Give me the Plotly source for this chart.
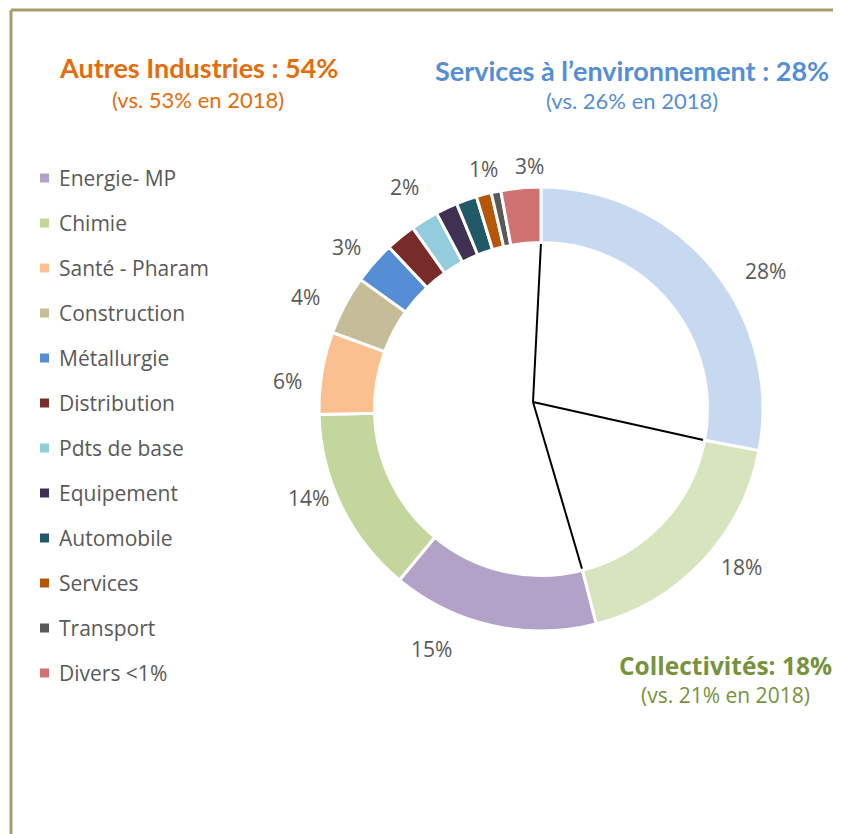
import math
import plotly.graph_objects as go

# --- data -------------------------------------------------------------
sectors = [
    "Services à l’environnement", "Collectivités", "Energie- MP", "Chimie",
    "Santé - Pharam", "Construction", "Métallurgie", "Distribution",
    "Pdts de base", "Equipement", "Automobile", "Services", "Transport",
    "Divers <1%",
]
shares = [28, 18, 15, 13.6, 6, 4.3, 3.1, 2.2, 2.0, 1.6, 1.5, 1.1, 0.7, 2.9]
shown_labels = ["28%", "18%", "15%", "14%", "6%", "4%", "3%", "", "2%", "", "", "1%", "", "3%"]
colors = [
    "#C6D9F1", "#D7E4BD", "#B2A2C7", "#C3D69B", "#FAC090", "#C4BD97", "#558ED5",
    "#772C2A", "#93CDDD", "#403152", "#215968", "#B65708", "#595959", "#D07272",
]
# groups drawn by the black radial lines: env. services | collectivités | other industries
group_sizes = [1, 1, 12]

headers = [
    ("Autres Industries : 54%", "(vs. 53% en 2018)", "#E46C0A"),
    ("Services à l’environnement : 28%", "(vs. 26% en 2018)", "#558ED5"),
    ("Collectivités: 18%", "(vs. 21% en 2018)", "#77933C"),
]

# --- geometry ---------------------------------------------------------
# the page body has an 8px margin, so the figure starts at (8, 8) of the window
OFF = 8
W, H = 841 - OFF, 834 - OFF


def px(x):
    return (x - OFF) / W


def py(y):
    return 1 - (y - OFF) / H


CX, CY, R = 541, 409, 222   # ring centre / outer radius in window pixels
HOLE = 0.75
LABEL_R = 1.15
# label placement tweaks: (angle nudge in degrees, radius factor)
label_place = {
    0: (8, 1.185), 1: (-5, 1.15), 2: (12, 1.19), 3: (5, 1.12), 4: (-3, 1.15),
    5: (-2.5, 1.175), 6: (-1.5, 1.14), 8: (0, 1.175), 11: (1.5, 1.11), 13: (2.5, 1.095),
}

total = sum(shares)
fig = go.Figure()

fig.add_trace(go.Pie(
    labels=sectors, values=shares, sort=False, direction="clockwise", rotation=0,
    hole=HOLE, textinfo="none", hoverinfo="label+percent", showlegend=False,
    marker=dict(colors=colors, line=dict(color="white", width=3)),
    domain=dict(x=[px(CX - R), px(CX + R)], y=[py(CY + R), py(CY - R)]),
))


def ang(frac):
    return 2 * math.pi * frac


# radial lines of the inner "group" pie, slightly off-centre like the original
ox, oy = -8 / R, 7 / R
lx, ly = [], []
bounds = [0]
for k in range(len(group_sizes) - 1):
    bounds.append(sum(shares[:sum(group_sizes[:k + 1])]))
for g in bounds:
    a = ang(g / total)
    lx += [ox, HOLE * math.sin(a), None]
    ly += [oy, HOLE * math.cos(a), None]
fig.add_trace(go.Scatter(x=lx, y=ly, mode="lines", line=dict(color="black", width=2),
                         hoverinfo="skip", showlegend=False))

# percentage labels
cum = 0
for i, (v, t) in enumerate(zip(shares, shown_labels)):
    mid = cum + v / 2
    cum += v
    if not t:
        continue
    da, rf = label_place.get(i, (0, LABEL_R))
    a = ang(mid / total) + math.radians(da)
    fig.add_annotation(x=rf * math.sin(a), y=rf * math.cos(a), text=t,
                       showarrow=False, xref="x", yref="y", xanchor="center", yanchor="middle",
                       font=dict(family="Open Sans", size=21, color="#595959"))

# legend (other industries only)
for k, (name, col) in enumerate(zip(sectors[2:], colors[2:])):
    yc = 178 + 45 * k
    fig.add_shape(type="rect", xref="paper", yref="paper",
                  x0=px(40), x1=px(49), y0=py(yc + 4.5), y1=py(yc - 4.5),
                  fillcolor=col, line_width=0)
    fig.add_annotation(x=px(57), y=py(yc), xref="paper", yref="paper", text=name,
                       xanchor="left", yanchor="middle", showarrow=False,
                       font=dict(family="Open Sans", size=21, color="#595959"))

# headers
head_style = [
    (198, 68, 99, "Lato", 27, 22),
    (632, 70, 100, "Lato", 27, 22),
    (725, 665, 695, "Open Sans", 24.5, 21),
]
for (title, sub, col), (hx, hy, sy, fam, s1, s2) in zip(headers, head_style):
    fig.add_annotation(x=px(hx), y=py(hy), xref="paper", yref="paper", showarrow=False,
                       xanchor="center", yanchor="middle",
                       text=f"<b>{title}</b>", font=dict(family=fam, size=s1, color=col))
    fig.add_annotation(x=px(hx), y=py(sy), xref="paper", yref="paper", showarrow=False,
                       xanchor="center", yanchor="middle",
                       text=sub, font=dict(family=fam, size=s2, color=col))

# frame
frame_col = "#A69E6C"
fig.add_shape(type="line", xref="paper", yref="paper", x0=px(11), x1=1, y0=py(10), y1=py(10),
              line=dict(color=frame_col, width=3))
fig.add_shape(type="line", xref="paper", yref="paper", x0=px(11), x1=px(11), y0=0, y1=py(10),
              line=dict(color=frame_col, width=3))

fig.update_layout(
    width=W, height=H, margin=dict(l=0, r=0, t=0, b=0),
    paper_bgcolor="white", plot_bgcolor="rgba(0,0,0,0)", showlegend=False,
    xaxis=dict(range=[-(CX - OFF) / R, (W - (CX - OFF)) / R], visible=False, fixedrange=True),
    yaxis=dict(range=[-(H - (CY - OFF)) / R, (CY - OFF) / R], visible=False, fixedrange=True),
)
fig.write_html("out.html")
